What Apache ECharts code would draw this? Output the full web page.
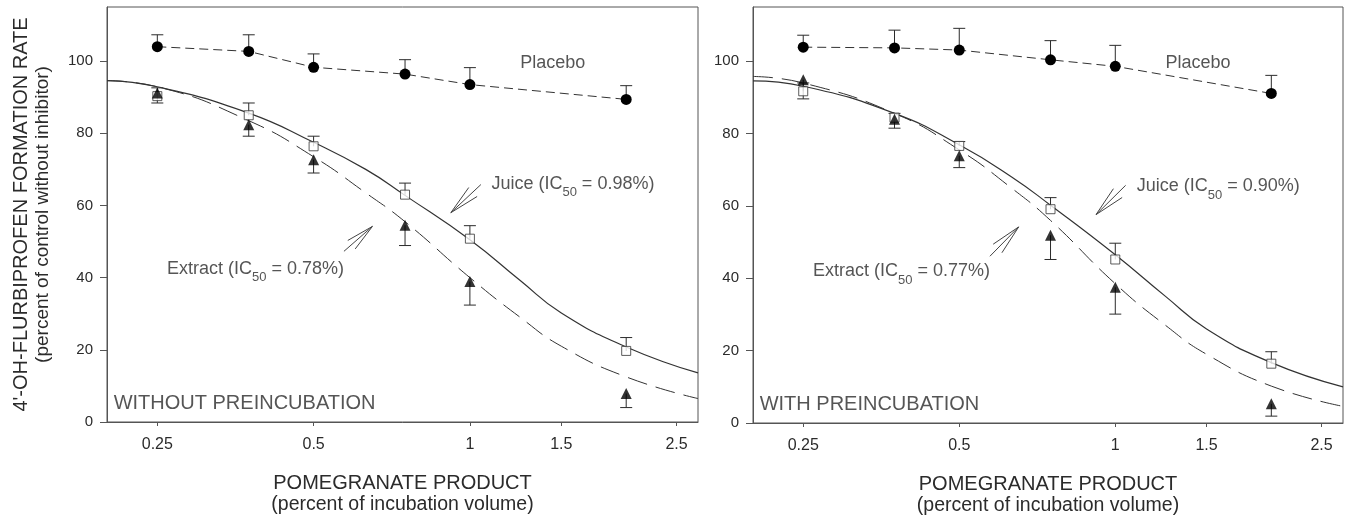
<!DOCTYPE html>
<html>
<head>
<meta charset="utf-8">
<title>Pomegranate product inhibition</title>
<script src="https://cdn.jsdelivr.net/npm/echarts@6/dist/echarts.min.js"></script>
<style>
  html, body { margin: 0; padding: 0; background: #fff; }
  #chart { width: 1350px; height: 517px; }
</style>
</head>
<body>
<div id="chart"></div>
<script>
// concentrations (percent of incubation volume)
var doses = [0.25, 0.375, 0.5, 0.75, 1, 2];
var xTicks = [0.25, 0.5, 1, 1.5, 2.5];
var yTicks = [0, 20, 40, 60, 80, 100];

// without preincubation
var placeboA = [104.0, 102.7, 98.3, 96.4, 93.5, 89.4];
var placeboAErr = [107.3, 107.3, 102.0, 100.4, 98.2, 93.2];
var juiceA = [90.3, 85.0, 76.4, 63.0, 50.8, 19.7];
var juiceAErr = [92.6, 88.4, 79.2, 66.2, 54.4, 23.4];
var extractA = [91.2, 82.4, 72.7, 54.5, 38.9, 7.9];
var extractAErr = [88.4, 79.2, 69.0, 48.9, 32.4, 4.0];

// with preincubation
var placeboB = [103.9, 103.7, 103.1, 100.4, 98.6, 91.1];
var placeboBErr = [107.2, 108.6, 109.1, 105.7, 104.4, 96.1];
var juiceB = [91.7, 84.4, 76.6, 59.1, 45.2, 16.4];
var juiceBErr = [94.0, 85.6, 77.8, 62.3, 49.7, 19.7];
var extractB = [94.9, 84.0, 73.9, 51.9, 37.5, 5.3];
var extractBErr = [89.6, 81.5, 70.6, 45.2, 30.1, 1.9];

// fitted curves
var fitX = [0.2, 0.25, 0.375, 0.5, 0.63, 0.75, 1, 1.25, 1.5, 2, 2.75];
var juiceFitA = [94.6, 92.9, 85.6, 77.5, 70.0, 62.8, 50.5, 39.2, 30.2, 20.8, 13.6];
var extractFitA = [94.6, 92.9, 83.5, 73.5, 63.5, 55.5, 40.0, 29.0, 21.0, 12.5, 6.5];
var juiceFitB = [94.6, 93.1, 85.6, 76.9, 68.1, 60.2, 46.5, 35.0, 26.0, 16.7, 10.0];
var extractFitB = [95.8, 94.0, 85.6, 75.5, 65.0, 56.0, 38.5, 27.0, 19.0, 10.2, 4.6];

var ic50A = ['0.98%', '0.78%'];
var ic50B = ['0.90%', '0.77%'];

var FONT = 'Liberation Sans, Arial, sans-serif';
var INK = '#2b2b2b';

function pairs(xs, ys) {
    return xs.map(function (x, i) { return [x, ys[i]]; });
}

function triples(xs, ys, es) {
    return xs.map(function (x, i) { return [x, ys[i], es[i]]; });
}

// error bar: line from the point to the end value, with a cap
function renderErr(params, api) {
    var p0 = api.coord([api.value(0), api.value(1)]);
    var p1 = api.coord([api.value(0), api.value(2)]);
    var st = {stroke: INK, lineWidth: 1};
    return {
        type: 'group',
        children: [
            {type: 'line', shape: {x1: p0[0], y1: p0[1], x2: p1[0], y2: p1[1]}, style: st},
            {type: 'line', shape: {x1: p1[0] - 6, y1: p1[1], x2: p1[0] + 6, y2: p1[1]}, style: st}
        ]
    };
}

// open arrow: tail (v0,v1) -> tip (v2,v3)
function renderArrow(params, api) {
    var a = api.coord([api.value(0), api.value(1)]);
    var b = api.coord([api.value(2), api.value(3)]);
    var ang = Math.atan2(a[1] - b[1], a[0] - b[0]);
    var len = Math.sqrt(Math.pow(a[0] - b[0], 2) + Math.pow(a[1] - b[1], 2)) * 0.75;
    var st = {stroke: '#444', lineWidth: 1};
    var kids = [{type: 'line', shape: {x1: a[0], y1: a[1], x2: b[0], y2: b[1]}, style: st}];
    [-0.2, 0.2].forEach(function (d) {
        kids.push({type: 'line', shape: {
            x1: b[0], y1: b[1],
            x2: b[0] + len * Math.cos(ang + d), y2: b[1] + len * Math.sin(ang + d)
        }, style: st});
    });
    return {type: 'group', children: kids};
}

var rich = {
    t: {fontFamily: FONT, fontSize: 18, color: INK, lineHeight: 20},
    s: {fontFamily: FONT, fontSize: 13, color: INK, lineHeight: 30, verticalAlign: 'bottom'},
    big: {fontFamily: FONT, fontSize: 20, color: INK}
};

function textItem(x, y, str) {
    return {
        value: [x, y],
        label: {show: true, position: 'right', distance: 0, formatter: str, rich: rich}
    };
}

function panel(g, pl, plErr, ju, juErr, ex, exErr, juFit, exFit, ic, title, labelPos) {
    var ax = {xAxisIndex: g, yAxisIndex: g};
    return [
        Object.assign({type: 'custom', renderItem: renderErr, z: 2,
            data: triples(doses, pl, plErr)}, ax),
        Object.assign({type: 'custom', renderItem: renderErr, z: 2,
            data: triples(doses, ju, juErr)}, ax),
        Object.assign({type: 'custom', renderItem: renderErr, z: 2,
            data: triples(doses, ex, exErr)}, ax),
        Object.assign({type: 'line', name: 'Placebo', data: pairs(doses, pl), z: 3,
            symbol: 'circle', symbolSize: 11,
            itemStyle: {color: '#000'},
            lineStyle: {color: '#333', width: 1, type: [9, 5]}}, ax),
        Object.assign({type: 'line', name: 'Juice fit', data: pairs(fitX, juFit), z: 3,
            smooth: 0.5, symbol: 'none',
            lineStyle: {color: '#333', width: 1.2}}, ax),
        Object.assign({type: 'line', name: 'Extract fit', data: pairs(fitX, exFit), z: 3,
            smooth: 0.5, symbol: 'none',
            lineStyle: {color: '#333', width: 1, type: [20, 9]}}, ax),
        Object.assign({type: 'scatter', name: 'Juice', data: pairs(doses, ju), z: 4,
            symbol: 'rect', symbolSize: 9,
            itemStyle: {color: '#fff', borderColor: '#333', borderWidth: 1}}, ax),
        Object.assign({type: 'scatter', name: 'Extract', data: pairs(doses, ex), z: 4,
            symbol: 'triangle', symbolSize: 11,
            itemStyle: {color: '#000'}}, ax),
        Object.assign({type: 'custom', renderItem: renderArrow, z: 3,
            data: labelPos.arrows}, ax),
        Object.assign({type: 'scatter', symbolSize: 0, z: 5, silent: true,
            data: [
                textItem(labelPos.placebo[0], labelPos.placebo[1], '{t|Placebo}'),
                textItem(labelPos.juice[0], labelPos.juice[1], '{t|Juice (IC}{s|50}{t| = ' + ic[0] + ')}'),
                textItem(labelPos.extract[0], labelPos.extract[1], '{t|Extract (IC}{s|50}{t| = ' + ic[1] + ')}'),
                textItem(labelPos.title[0], labelPos.title[1], '{big|' + title + '}')
            ]}, ax)
    ];
}

function xAxis(g) {
    return {
        type: 'log', logBase: 2, gridIndex: g, min: 0.2, max: 2.75,
        name: '{a|POMEGRANATE PRODUCT}\n{b|(percent of incubation volume)}',
        nameLocation: 'middle', nameGap: 50,
        nameTextStyle: {rich: {
            a: {fontFamily: FONT, fontSize: 20, color: INK, lineHeight: 22},
            b: {fontFamily: FONT, fontSize: 19.5, color: INK, lineHeight: 21}
        }},
        axisLine: {lineStyle: {color: '#555', width: 1}},
        axisTick: {customValues: xTicks, length: 4, lineStyle: {color: '#555'}},
        axisLabel: {customValues: xTicks, margin: 15, fontFamily: FONT, fontSize: 16, color: INK,
            formatter: function (v) { return String(Math.round(v * 100) / 100); }},
        splitLine: {show: false}, minorTick: {show: false}
    };
}

function yAxis(g, withName) {
    var a = {
        type: 'value', gridIndex: g, min: 0, max: 115,
        axisLine: {show: true, lineStyle: {color: '#555', width: 1}},
        axisTick: {customValues: yTicks, length: 7, lineStyle: {color: '#555'}},
        axisLabel: {customValues: yTicks, margin: 14, fontFamily: FONT, fontSize: 15, color: INK},
        splitLine: {show: false}
    };
    if (withName) {
        a.name = '{a|4\'-OH-FLURBIPROFEN FORMATION RATE}\n{b|(percent of control without inhibitor)}';
        a.nameLocation = 'middle';
        a.nameGap = 53.5;
        a.nameTextStyle = {rich: {
            a: {fontFamily: FONT, fontSize: 20, color: INK, lineHeight: 22},
            b: {fontFamily: FONT, fontSize: 19, color: INK, lineHeight: 21}
        }};
    }
    return a;
}

var labelsA = {
    placebo: [1.25, 99.4], juice: [1.10, 66.0], extract: [0.261, 42.4], title: [0.206, 5.1],
    arrows: [[1.05, 65.8, 0.919, 58.0], [0.572, 47.3, 0.649, 54.2]]
};
var labelsB = {
    placebo: [1.25, 99.4], juice: [1.10, 65.4], extract: [0.261, 41.9], title: [0.206, 5.0],
    arrows: [[1.047, 65.7, 0.918, 57.6], [0.573, 46.1, 0.651, 54.2]]
};

var chart = echarts.init(document.getElementById('chart'), null, {renderer: 'canvas'});
chart.setOption({
    animation: false,
    backgroundColor: '#fff',
    grid: [
        {left: 107, top: 7, width: 591, height: 415, show: true, borderColor: '#555', borderWidth: 1,
            containLabel: false, outerBoundsMode: 'none'},
        {left: 753, top: 7, width: 590, height: 416, show: true, borderColor: '#555', borderWidth: 1,
            containLabel: false, outerBoundsMode: 'none'}
    ],
    xAxis: [xAxis(0), xAxis(1)],
    yAxis: [yAxis(0, true), yAxis(1, false)],
    series: panel(0, placeboA, placeboAErr, juiceA, juiceAErr, extractA, extractAErr,
            juiceFitA, extractFitA, ic50A, 'WITHOUT PREINCUBATION', labelsA)
        .concat(panel(1, placeboB, placeboBErr, juiceB, juiceBErr, extractB, extractBErr,
            juiceFitB, extractFitB, ic50B, 'WITH PREINCUBATION', labelsB))
});
</script>
</body>
</html>
